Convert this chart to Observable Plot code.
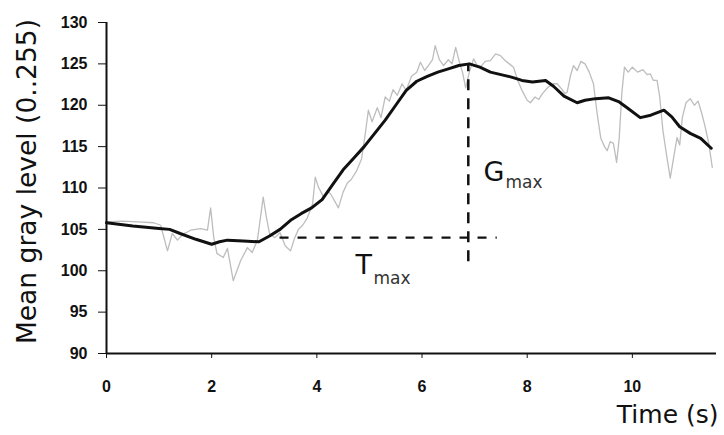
<!DOCTYPE html>
<html>
<head>
<meta charset="utf-8">
<script src="https://cdn.jsdelivr.net/npm/d3@7"></script>
<script src="https://cdn.jsdelivr.net/npm/@observablehq/plot@0.6"></script>
<style>
  html, body { margin: 0; padding: 0; background: #fff; }
  #chart svg { display: block; }
</style>
</head>
<body>
<div id="chart"></div>
<script>
// Smoothed mean gray level (black curve)
const smoothT = [0, 0.5, 1.0, 1.2, 1.4, 1.7, 2.0, 2.15, 2.3, 2.6, 2.9, 3.1, 3.3, 3.5, 3.7, 3.9, 4.1, 4.3, 4.5, 4.7, 4.9, 5.1, 5.3, 5.5, 5.7, 5.9, 6.1, 6.3, 6.5, 6.7, 6.9, 7.1, 7.3, 7.5, 7.7, 7.9, 8.1, 8.35, 8.5, 8.7, 8.95, 9.1, 9.3, 9.55, 9.75, 9.9, 10.15, 10.35, 10.6, 10.75, 10.9, 11.1, 11.3, 11.5];
const smoothV = [105.8, 105.4, 105.1, 105.0, 104.5, 103.8, 103.2, 103.5, 103.7, 103.6, 103.5, 104.2, 105.0, 106.1, 106.9, 107.6, 108.6, 110.4, 112.2, 113.6, 115.0, 116.6, 118.2, 120.0, 121.8, 122.9, 123.5, 124.0, 124.4, 124.8, 125.0, 124.6, 124.0, 123.7, 123.4, 123.0, 122.8, 123.0, 122.3, 121.1, 120.3, 120.6, 120.8, 120.9, 120.4, 119.7, 118.5, 118.8, 119.4, 118.6, 117.4, 116.6, 116.0, 114.8];

// Raw mean gray level (gray noisy curve)
const rawT = [0, 0.3, 0.6, 0.9, 1.03, 1.16, 1.25, 1.35, 1.45, 1.6, 1.79, 1.92, 1.98, 2.04, 2.1, 2.22, 2.3, 2.41, 2.55, 2.68, 2.77, 2.87, 2.98, 3.04, 3.1, 3.2, 3.3, 3.4, 3.5, 3.58, 3.65, 3.73, 3.82, 3.92, 3.97, 4.03, 4.13, 4.2, 4.26, 4.35, 4.41, 4.5, 4.58, 4.65, 4.75, 4.85, 4.92, 4.98, 5.05, 5.15, 5.22, 5.3, 5.38, 5.45, 5.53, 5.62, 5.7, 5.8, 5.9, 5.97, 6.05, 6.12, 6.2, 6.25, 6.33, 6.41, 6.5, 6.57, 6.64, 6.72, 6.77, 6.83, 6.9, 6.98, 7.05, 7.11, 7.2, 7.3, 7.4, 7.49, 7.58, 7.66, 7.74, 7.82, 7.9, 8.0, 8.06, 8.15, 8.22, 8.29, 8.4, 8.5, 8.57, 8.65, 8.72, 8.76, 8.82, 8.88, 8.95, 9.02, 9.1, 9.18, 9.26, 9.33, 9.4, 9.47, 9.52, 9.58, 9.64, 9.7, 9.75, 9.8, 9.85, 9.92, 10.0, 10.1, 10.2, 10.28, 10.34, 10.4, 10.47, 10.52, 10.58, 10.65, 10.72, 10.78, 10.85, 10.9, 10.95, 11.02, 11.1, 11.18, 11.25, 11.32, 11.38, 11.45, 11.52];
const rawV = [105.9, 106.0, 105.9, 105.8, 105.5, 102.4, 104.5, 103.7, 104.4, 104.9, 105.1, 104.9, 107.6, 104.0, 102.1, 101.6, 102.7, 98.8, 101.2, 102.8, 102.2, 103.7, 108.9, 106.5, 104.5, 104.0, 104.6, 103.0, 102.4, 104.0, 105.0, 105.5, 106.4, 108.1, 111.3, 110.1, 108.9, 109.6, 109.3, 108.3, 107.6, 109.5, 110.6, 111.0, 112.0, 113.5, 116.5, 119.4, 118.0, 119.7, 118.5, 121.0, 120.5, 121.9, 121.2, 122.6, 121.8, 123.5, 124.0, 125.2, 124.2, 124.8, 125.5, 127.2, 125.5, 124.8, 125.5, 125.0, 127.0, 125.0, 124.0, 122.1, 124.0, 125.6, 124.8, 124.6, 125.3, 125.4, 126.2, 126.0, 125.4, 125.0, 124.6, 123.0, 121.8, 120.6, 120.3, 121.0, 120.7, 121.4, 122.2, 122.6, 122.6, 122.0, 121.4, 121.6, 123.5, 124.8, 124.2, 125.3, 125.0, 124.0, 122.6, 119.0, 116.0, 115.0, 114.5, 115.6, 115.4, 113.1, 116.0, 121.5, 124.6, 124.0, 124.6, 124.0, 124.3, 123.7, 123.8, 123.0, 123.0, 121.0, 117.0, 114.0, 111.2, 113.5, 116.1, 115.2, 118.5, 120.3, 120.8, 120.0, 120.5, 119.0, 117.5, 115.5, 112.5];

// Axis ticks and titles
const xTicks = [0, 2, 4, 6, 8, 10];
const yTicks = [90, 95, 100, 105, 110, 115, 120, 125, 130];
const xTitle = "Time (s)";
const yTitle = "Mean gray level (0..255)";

// Annotations (data coordinates)
const tmaxBaseline = 104;      // horizontal dashed level
const tmaxRange = [3.3, 7.43]; // horizontal dashed extent (s)
const gmaxTime = 6.88;         // vertical dashed position (s)
const gmaxRange = [101.1, 124.9];
const gLabel = {main: "G", sub: "max", t: 7.17, v: 111.95, subT: 7.586, subV: 110.71};
const tLabel = {main: "T", sub: "max", t: 4.734, v: 100.71, subT: 5.076, subV: 99.11};

const smooth = smoothT.map((t, i) => ({t, v: smoothV[i]}));
const raw = rawT.map((t, i) => ({t, v: rawV[i]}));

const bigFont = "DejaVu Sans";

const chart = Plot.plot({
  width: 724,
  height: 435,
  marginLeft: 106,
  marginRight: 8,
  marginTop: 22,
  marginBottom: 82,
  style: {fontFamily: "Liberation Sans, Arial, sans-serif", fontSize: "16px", fontWeight: "bold", color: "#111", background: "#fff"},
  x: {domain: [0, 11.6], ticks: xTicks, tickSize: 5, tickPadding: 22, label: null, tickFormat: d => String(d)},
  y: {domain: [90, 130], ticks: yTicks, tickSize: 8, tickPadding: 11, label: null, tickFormat: d => String(d)},
  marks: [
    Plot.line(raw, {x: "t", y: "v", stroke: "#bdbdbd", strokeWidth: 1.3}),
    Plot.line(smooth, {x: "t", y: "v", stroke: "#111", strokeWidth: 3}),
    Plot.ruleY([tmaxBaseline], {x1: tmaxRange[0], x2: tmaxRange[1], stroke: "#111", strokeWidth: 2.2, strokeDasharray: "9,9"}),
    Plot.ruleX([gmaxTime], {y1: gmaxRange[0], y2: gmaxRange[1], stroke: "#111", strokeWidth: 2.5, strokeDasharray: "11,8"}),
    Plot.ruleX([0], {stroke: "#111", strokeWidth: 2}),
    Plot.ruleY([90], {stroke: "#111", strokeWidth: 2}),
    Plot.text([gLabel], {x: "t", y: "v", text: "main", textAnchor: "start", fontSize: 27, fontWeight: "normal", fontFamily: bigFont, fill: "#111"}),
    Plot.text([gLabel], {x: "subT", y: "subV", text: "sub", textAnchor: "start", fontSize: 17, fontWeight: "normal", fontFamily: bigFont, fill: "#333"}),
    Plot.text([tLabel], {x: "t", y: "v", text: "main", textAnchor: "start", fontSize: 27, fontWeight: "normal", fontFamily: bigFont, fill: "#111"}),
    Plot.text([tLabel], {x: "subT", y: "subV", text: "sub", textAnchor: "start", fontSize: 17, fontWeight: "normal", fontFamily: bigFont, fill: "#333"}),
    Plot.text([yTitle], {frameAnchor: "left", rotate: -90, textAnchor: "middle", lineAnchor: "middle", dx: -78.5, dy: -6.5, fontSize: 26.5, fontWeight: "normal", fontFamily: bigFont, fill: "#111"}),
    Plot.text([xTitle], {frameAnchor: "bottom-right", textAnchor: "end", dx: 2, dy: 69, fontSize: 25, fontWeight: "normal", fontFamily: bigFont, fill: "#111"})
  ]
});
document.getElementById("chart").appendChild(chart);
</script>
</body>
</html>
